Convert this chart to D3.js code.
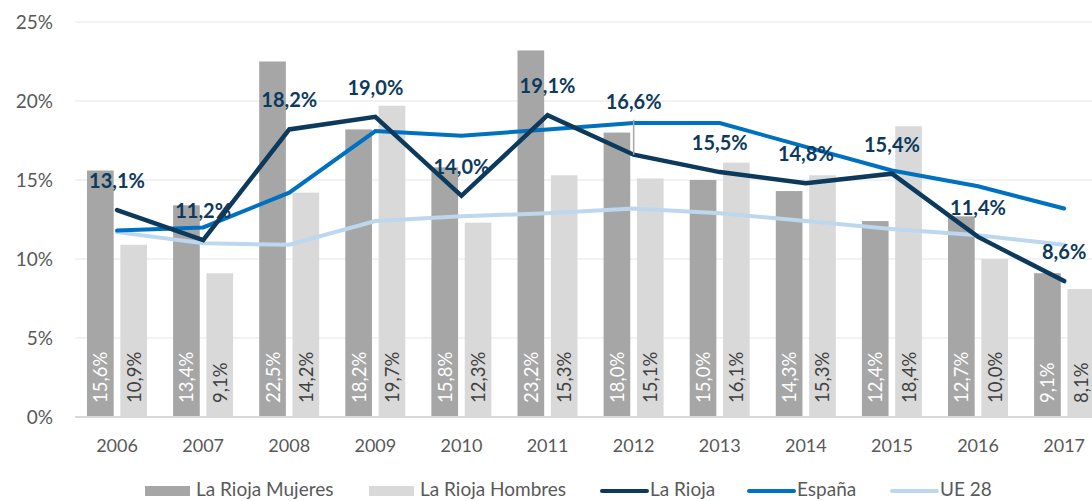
<!DOCTYPE html>
<html>
<head>
<meta charset="utf-8">
<script src="https://cdn.jsdelivr.net/npm/d3@7"></script>
<style>
  html, body { margin: 0; padding: 0; background: #ffffff; overflow: hidden; }
  svg { display: block; font-family: Lato, "Open Sans", sans-serif; }
</style>
</head>
<body>
<div id="chart"></div>
<script>
/**
 * Tasa de paro: La Rioja (mujeres / hombres), La Rioja, España y UE 28.
 */

/***** Données *****/
var years = ["2006", "2007", "2008", "2009", "2010", "2011", "2012", "2013", "2014", "2015", "2016", "2017"];
var mujeres = [15.6, 13.4, 22.5, 18.2, 15.8, 23.2, 18.0, 15.0, 14.3, 12.4, 12.7, 9.1];
var hombres = [10.9, 9.1, 14.2, 19.7, 12.3, 15.3, 15.1, 16.1, 15.3, 18.4, 10.0, 8.1];
var laRioja = [13.1, 11.2, 18.2, 19.0, 14.0, 19.1, 16.6, 15.5, 14.8, 15.4, 11.4, 8.6];
var espana = [11.8, 12.0, 14.2, 18.1, 17.8, 18.2, 18.6, 18.6, 17.1, 15.6, 14.6, 13.2];
var ue28 = [11.7, 11.0, 10.9, 12.4, 12.7, 12.9, 13.2, 12.9, 12.4, 11.9, 11.5, 10.9];
var yTicks = [0, 5, 10, 15, 20, 25];

(function () {
  "use strict";

  var width = 1092, height = 501;
  var fmt = function (v) { return v.toFixed(1).replace(".", ",") + "%"; };

  var svg = d3.select("#chart")
    .append("svg")
    .attr("width", width)
    .attr("height", height);

  // Échelles
  var x = d3.scaleBand()
    .domain(years)
    .range([74, 74 + 12 * 86.1]);

  var x1 = d3.scaleBand()
    .domain(["m", "h"])
    .range([13, 73])
    .paddingInner(0.2);

  var y = d3.scaleLinear()
    .domain([0, 25])
    .range([417, 22]);

  var cx = function (d, i) { return x(years[i]) + x.bandwidth() / 2; };

  // Grille
  svg.append("g")
    .selectAll("line")
    .data(yTicks.filter(function (t) { return t > 0; }))
    .join("line")
    .attr("x1", 75)
    .attr("x2", width)
    .attr("y1", function (d) { return y(d); })
    .attr("y2", function (d) { return y(d); })
    .attr("stroke", "#eeeeee")
    .attr("stroke-width", 1.5);

  // Axe Y
  var yAxis = svg.append("g")
    .attr("transform", "translate(75,0)")
    .call(d3.axisLeft(y).tickValues(yTicks).tickSize(0).tickPadding(22)
      .tickFormat(function (d) { return d + "%"; }));
  yAxis.select(".domain").remove();
  yAxis.selectAll("text")
    .attr("fill", "#595959")
    .style("font-size", "19px")
    .style("font-family", "Lato, sans-serif");

  // Barres
  var groups = svg.append("g")
    .selectAll("g")
    .data(years)
    .join("g")
    .attr("transform", function (d) { return "translate(" + x(d) + ",0)"; });

  var series = [
    {key: "m", values: mujeres, fill: "#a6a6a6", text: "#ffffff"},
    {key: "h", values: hombres, fill: "#d9d9d9", text: "#404040"}
  ];

  series.forEach(function (s) {
    groups.append("rect")
      .attr("x", x1(s.key))
      .attr("width", x1.bandwidth())
      .attr("y", function (d, i) { return y(s.values[i]); })
      .attr("height", function (d, i) { return y(0) - y(s.values[i]); })
      .attr("fill", s.fill);

    groups.append("text")
      .attr("transform", "translate(" + (x1(s.key) + x1.bandwidth() / 2) + "," + (y(0) - 14) + ") rotate(-90)")
      .attr("dominant-baseline", "central")
      .attr("fill", s.text)
      .style("font-size", "18.5px")
      .text(function (d, i) { return fmt(s.values[i]); });
  });

  // Axe X
  svg.append("line")
    .attr("x1", 75)
    .attr("x2", width)
    .attr("y1", y(0))
    .attr("y2", y(0))
    .attr("stroke", "#d9d9d9")
    .attr("stroke-width", 2);

  svg.append("g")
    .selectAll("text")
    .data(years)
    .join("text")
    .attr("x", function (d) { return x(d) + x.bandwidth() / 2; })
    .attr("y", 452)
    .attr("text-anchor", "middle")
    .attr("fill", "#595959")
    .style("font-size", "18px")
    .text(function (d) { return d; });

  // Lignes
  var line = d3.line()
    .x(function (d, i) { return cx(d, i); })
    .y(function (d) { return y(d); });

  var lines = [
    {name: "UE 28", values: ue28, color: "#bdd7ee"},
    {name: "España", values: espana, color: "#0070c0"},
    {name: "La Rioja", values: laRioja, color: "#0d3a5c"}
  ];

  lines.forEach(function (l) {
    svg.append("path")
      .datum(l.values)
      .attr("d", line)
      .attr("fill", "none")
      .attr("stroke", l.color)
      .attr("stroke-width", l.name === "La Rioja" ? 4.5 : 4)
      .attr("stroke-linejoin", "miter")
      .attr("stroke-linecap", "round");
  });

  // Étiquettes La Rioja (2012 déplacée avec ligne de rappel)
  var lift = laRioja.map(function (v, i) { return years[i] === "2012" ? 46 : 22; });

  svg.append("line")
    .attr("x1", cx(null, 6))
    .attr("x2", cx(null, 6))
    .attr("y1", y(laRioja[6]) - lift[6] + 11)
    .attr("y2", y(laRioja[6]))
    .attr("stroke", "#a6a6a6")
    .attr("stroke-width", 1.5);

  svg.append("g")
    .selectAll("text")
    .data(laRioja)
    .join("text")
    .attr("x", cx)
    .attr("y", function (d, i) { return y(d) - lift[i]; })
    .attr("text-anchor", "middle")
    .attr("fill", "#0d3a5c")
    .style("font-size", "20px")
    .style("font-weight", "bold")
    .text(fmt);

  // Légende
  var legend = [
    {name: "La Rioja Mujeres", type: "rect", color: "#a6a6a6", x: 145},
    {name: "La Rioja Hombres", type: "rect", color: "#d9d9d9", x: 369},
    {name: "La Rioja", type: "line", color: "#0d3a5c", x: 600},
    {name: "España", type: "line", color: "#0070c0", x: 747},
    {name: "UE 28", type: "line", color: "#bdd7ee", x: 890}
  ];

  var lg = svg.append("g")
    .selectAll("g")
    .data(legend)
    .join("g")
    .attr("transform", function (d) { return "translate(" + d.x + ",0)"; });

  lg.filter(function (d) { return d.type === "rect"; })
    .append("rect")
    .attr("y", 486)
    .attr("width", 45)
    .attr("height", 10)
    .attr("fill", function (d) { return d.color; });

  lg.filter(function (d) { return d.type === "line"; })
    .append("line")
    .attr("x1", 2)
    .attr("x2", 47)
    .attr("y1", 491)
    .attr("y2", 491)
    .attr("stroke", function (d) { return d.color; })
    .attr("stroke-width", 4)
    .attr("stroke-linecap", "round");

  lg.append("text")
    .attr("x", function (d) { return d.type === "rect" ? 51 : 50; })
    .attr("y", 496)
    .attr("fill", "#595959")
    .style("font-size", "19px")
    .text(function (d) { return d.name; });
})();
</script>
</body>
</html>
